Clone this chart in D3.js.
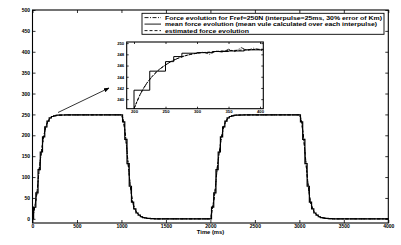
<!DOCTYPE html>
<html>
<head>
<meta charset="utf-8">
<script src="https://cdn.jsdelivr.net/npm/d3@7"></script>
<style>
  body { margin: 0; background: #fff; }
  svg text { font-family: "Liberation Sans", Arial, sans-serif; font-weight: bold; fill: #000; }
</style>
</head>
<body>
<div id="chart"></div>
<script>
// one pulse (ms offset from pulse start, force in N)
const pulseTime  = [0, 25, 50, 75, 100, 125, 150, 175, 200, 225, 250, 275, 300, 350, 400, 1000,
                    1025, 1050, 1075, 1100, 1125, 1150, 1175, 1200, 1225, 1250, 1275, 1300, 1350, 1400];
const pulseForce = [0, 28, 62, 118, 160, 196, 220, 234, 241.6, 245.0, 246.7, 248.0, 248.3, 248.6, 248.8, 249,
                    232, 190, 132, 78, 40, 24, 14, 9, 5, 3, 2, 1, 0.3, 0];
const pulseStarts = [0, 2000];
const endTime = 4000;

// inset (zoom on 200..400 ms of the first pulse)
const insetMeanT = [175, 200, 225, 250, 263, 276, 300, 325, 350, 375, 400, 410];
const insetMeanF = [234, 241.6, 245.0, 246.7, 247.6, 248.2, 248.3, 248.5, 248.6, 248.8, 248.8, 248.8];
const insetForceT = [200, 210, 220, 230, 240, 250, 260, 270, 280, 290, 300, 310, 320, 330, 340, 350, 360, 370, 380, 390, 400, 405];
const insetForceF = [238.3, 240.9, 242.8, 244.2, 245.3, 246.1, 246.8, 247.3, 247.7, 248.0, 248.2, 248.4, 248.0, 248.6, 248.4, 248.9, 248.5, 249.2, 248.7, 249.1, 248.8, 248.6];
const insetEstT = [200, 210, 220, 230, 240, 250, 260, 270, 280, 290, 300, 320, 340, 360, 380, 400, 405];
const insetEstF = [238.3, 240.9, 242.8, 244.2, 245.3, 246.1, 246.8, 247.3, 247.7, 248.0, 248.2, 248.4, 248.6, 248.7, 248.8, 248.9, 248.9];

const xTicks = [0, 500, 1000, 1500, 2000, 2500, 3000, 3500, 4000];
const yTicks = [0, 50, 100, 150, 200, 250, 300, 350, 400, 450, 500];
const insetXTicks = [200, 250, 300, 350, 400];
const insetYTicks = [240, 242, 244, 246, 248, 250];

const legendLabels = [
  "Force evolution for Fref=250N (interpulse=25ms, 30% error of Km)",
  "mean force evolution (mean vule calculated over each interpulse)",
  "estimated force evolution"
];
const xLabel = "Time (ms)";

// build the full series from the pulse
let series = [];
pulseStarts.forEach(s => {
  pulseTime.forEach((t, i) => series.push({t: s + t, f: pulseForce[i]}));
});
series.push({t: endTime, f: 0});

const width = 401, height = 245;
const svg = d3.select("#chart").append("svg")
  .attr("width", width).attr("height", height);

const x = d3.scaleLinear().domain([0, 4000]).range([32.5, 388.3]);
const y = d3.scaleLinear().domain([-10, 500]).range([223, 10]);

const defs = svg.append("defs");
defs.append("marker")
  .attr("id", "arrow")
  .attr("viewBox", "0 0 10 10")
  .attr("refX", 9).attr("refY", 5)
  .attr("markerWidth", 7).attr("markerHeight", 7)
  .attr("orient", "auto")
  .append("path")
  .attr("d", "M0,1 L10,5 L0,9 z")
  .attr("fill", "#000");

// axes with inward ticks, MATLAB style box
function boxAxes(g, xs, ys, xt, yt, fs, tick) {
  const [x0, x1] = xs.range();
  const [y0, y1] = ys.range();
  const fmt = d3.format("d");
  g.append("g")
    .attr("transform", "translate(0," + y0 + ")")
    .call(d3.axisBottom(xs).tickValues(xt).tickSize(-tick).tickPadding(1.5).tickFormat(fmt))
    .call(a => a.select(".domain").remove())
    .selectAll("text").style("font-size", fs + "px");
  g.append("g")
    .attr("transform", "translate(0," + y1 + ")")
    .call(d3.axisTop(xs).tickValues(xt).tickSize(-tick).tickFormat(""))
    .call(a => a.select(".domain").remove());
  g.append("g")
    .attr("transform", "translate(" + x0 + ",0)")
    .call(d3.axisLeft(ys).tickValues(yt).tickSize(-tick).tickPadding(2.5).tickFormat(fmt))
    .call(a => a.select(".domain").remove())
    .selectAll("text").style("font-size", fs + "px");
  g.append("g")
    .attr("transform", "translate(" + x1 + ",0)")
    .call(d3.axisRight(ys).tickValues(yt).tickSize(-tick).tickFormat(""))
    .call(a => a.select(".domain").remove());
  g.selectAll(".tick line").attr("stroke", "#000").attr("stroke-width", 0.8);
  g.append("rect")
    .attr("x", x0).attr("y", y1)
    .attr("width", x1 - x0).attr("height", y0 - y1)
    .attr("fill", "none").attr("stroke", "#000").attr("stroke-width", 1.1);
}

const main = svg.append("g");
boxAxes(main, x, y, xTicks, yTicks, 5, 3);

// main curves (three overlapping series)
const lineStep = d3.line().x(d => x(d.t)).y(d => y(d.f)).curve(d3.curveStep);
const lineLin = d3.line().x(d => x(d.t)).y(d => y(d.f));
const lineSmooth = d3.line().x(d => x(d.t)).y(d => y(d.f)).curve(d3.curveMonotoneX);

main.append("path").datum(series).attr("d", lineLin)
  .attr("fill", "none").attr("stroke", "#000").attr("stroke-width", 1)
  .attr("stroke-dasharray", "4,1.5,1,1.5");
main.append("path").datum(series).attr("d", lineStep)
  .attr("fill", "none").attr("stroke", "#000").attr("stroke-width", 1.2);
main.append("path").datum(series).attr("d", lineSmooth)
  .attr("fill", "none").attr("stroke", "#000").attr("stroke-width", 1)
  .attr("stroke-dasharray", "3,1.5");

main.append("text")
  .attr("x", 210.5).attr("y", 234)
  .attr("text-anchor", "middle")
  .style("font-size", "5.8px")
  .text(xLabel);

// arrow to inset
main.append("line")
  .attr("x1", 58).attr("y1", 112.5)
  .attr("x2", 109).attr("y2", 88)
  .attr("stroke", "#000").attr("stroke-width", 0.8)
  .attr("marker-end", "url(#arrow)");

// inset
const ix = d3.scaleLinear().domain([188.4, 405.2]).range([126.7, 263.3]);
const iy = d3.scaleLinear().domain([238.3, 250.2]).range([108.7, 42]);

const inset = svg.append("g");
inset.append("rect")
  .attr("x", 126.7).attr("y", 42).attr("width", 263.3 - 126.7).attr("height", 108.7 - 42)
  .attr("fill", "#fff");

defs.append("clipPath").attr("id", "insetClip")
  .append("rect")
  .attr("x", 126.7).attr("y", 42).attr("width", 263.3 - 126.7).attr("height", 108.7 - 42);

const ic = inset.append("g").attr("clip-path", "url(#insetClip)");
const iLine = d3.line().x(d => ix(d[0])).y(d => iy(d[1]));

ic.append("path").datum(insetForceT.map((t, i) => [t, insetForceF[i]]))
  .attr("d", iLine)
  .attr("fill", "none").attr("stroke", "#000").attr("stroke-width", 0.8)
  .attr("stroke-dasharray", "4,1.5,1,1.5");
ic.append("path").datum(insetMeanT.map((t, i) => [t, insetMeanF[i]]))
  .attr("d", iLine.curve(d3.curveStepAfter))
  .attr("fill", "none").attr("stroke", "#000").attr("stroke-width", 1);
ic.append("path").datum(insetEstT.map((t, i) => [t, insetEstF[i]]))
  .attr("d", d3.line().x(d => ix(d[0])).y(d => iy(d[1])).curve(d3.curveMonotoneX))
  .attr("fill", "none").attr("stroke", "#000").attr("stroke-width", 1)
  .attr("stroke-dasharray", "3,1.5");

boxAxes(inset, ix, iy, insetXTicks, insetYTicks, 4.2, 2);

// legend
const lg = svg.append("g");
lg.append("rect")
  .attr("x", 142).attr("y", 13.3).attr("width", 242).attr("height", 21)
  .attr("fill", "#fff").attr("stroke", "#000").attr("stroke-width", 0.9);
const legendDash = ["4,1.5,1,1.5", null, "3,2"];
const legendLen = [217, 212, 84];
legendLabels.forEach((lab, i) => {
  const yy = 17.6 + i * 6.5;
  lg.append("line")
    .attr("x1", 144.5).attr("x2", 161)
    .attr("y1", yy).attr("y2", yy)
    .attr("stroke", "#000").attr("stroke-width", 0.9)
    .attr("stroke-dasharray", legendDash[i]);
  lg.append("text")
    .attr("x", 165).attr("y", yy)
    .attr("dy", "0.35em")
    .attr("textLength", legendLen[i])
    .attr("lengthAdjust", "spacingAndGlyphs")
    .style("font-size", "5.6px")
    .text(lab);
});
</script>
</body>
</html>
